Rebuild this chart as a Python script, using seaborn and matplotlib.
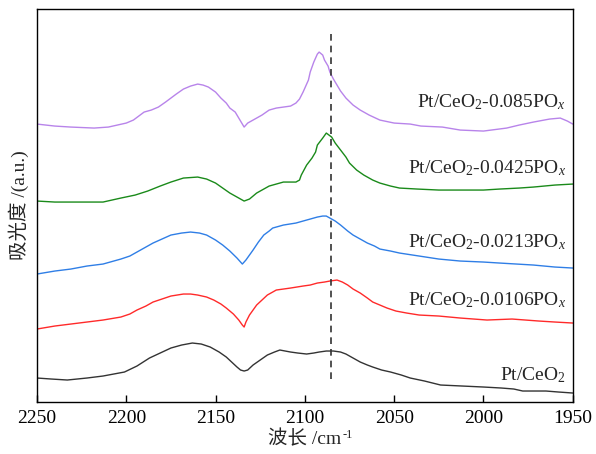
import matplotlib
matplotlib.use("Agg")
import matplotlib.pyplot as plt
import seaborn as sns
import pandas as pd

# spectra (wavenumber /cm-1, absorbance a.u., already stacked)
wn_ceo2 = [2250, 2242, 2233, 2222, 2213, 2207, 2201, 2194, 2187, 2181, 2175, 2169, 2163, 2158,
           2153, 2148, 2144, 2141, 2138, 2136, 2134, 2132, 2129, 2125, 2121, 2117, 2114, 2111,
           2108, 2104, 2099, 2095, 2092, 2088, 2084, 2080, 2077, 2073, 2069, 2065, 2062, 2057,
           2052, 2046, 2041, 2033, 2024, 2012, 2000, 1990, 1983, 1978, 1972, 1965, 1958, 1950]
ab_ceo2 = [24, 23, 22, 24, 26, 28, 30, 36, 44, 49, 54, 57, 59, 58,
           55, 50, 45, 40, 35, 32, 31, 32, 37, 42, 47, 50, 52, 51,
           50, 49, 48, 49, 50, 51, 51, 50, 48, 44, 40, 37, 35, 32,
           30, 27, 24, 21, 17, 16, 15, 14, 13, 11, 11, 11, 10, 9]

wn_0106 = [2250, 2240, 2231, 2222, 2213, 2203, 2198, 2194, 2189, 2185, 2180, 2175, 2168, 2164,
           2160, 2155, 2151, 2147, 2144, 2140, 2137, 2135, 2134, 2133, 2131, 2127, 2124, 2121,
           2116, 2112, 2108, 2101, 2097, 2093, 2089, 2086, 2082, 2079, 2076, 2073, 2069, 2065,
           2062, 2058, 2054, 2049, 2043, 2036, 2025, 2013, 1998, 1984, 1969, 1960, 1950]
ab_0106 = [73, 76, 78, 80, 82, 85, 88, 92, 96, 100, 103, 106, 108, 108,
           107, 105, 102, 98, 94, 88, 82, 77, 75, 80, 87, 97, 102, 107,
           112, 113, 114, 116, 117, 119, 120, 121, 122, 120, 117, 113, 109, 104,
           100, 97, 94, 91, 89, 87, 86, 84, 82, 83, 81, 80, 79]

wn_0213 = [2250, 2240, 2231, 2222, 2213, 2203, 2198, 2194, 2189, 2185, 2180, 2175, 2169, 2164,
           2159, 2155, 2150, 2146, 2142, 2138, 2136, 2135, 2133, 2129, 2126, 2123, 2120, 2118,
           2112, 2105, 2097, 2093, 2090, 2088, 2086, 2083, 2080, 2076, 2073, 2069, 2065, 2061,
           2058, 2052, 2047, 2036, 2025, 2013, 2000, 1991, 1972, 1960, 1950]
ab_0213 = [128, 131, 133, 136, 138, 143, 146, 150, 155, 159, 163, 167, 169, 170,
           169, 167, 162, 157, 151, 144, 140, 138, 142, 152, 160, 167, 171, 174,
           177, 179, 183, 185, 186, 186, 184, 181, 177, 171, 167, 163, 159, 156,
           153, 151, 149, 146, 143, 141, 140, 139, 137, 135, 134]

wn_0425 = [2250, 2240, 2231, 2213, 2203, 2195, 2188, 2181, 2175, 2168, 2160, 2155, 2150, 2146,
           2142, 2138, 2136, 2134, 2131, 2127, 2123, 2120, 2116, 2112, 2105, 2103, 2102, 2099,
           2096, 2094, 2093, 2090, 2088, 2085, 2083, 2080, 2077, 2075, 2071, 2067, 2062, 2058,
           2052, 2047, 2037, 2025, 2013, 2000, 1991, 1980, 1972, 1960, 1950]
ab_0425 = [201, 200, 200, 200, 204, 207, 211, 216, 220, 224, 225, 223, 219, 214,
           209, 205, 203, 201, 203, 209, 213, 216, 218, 220, 220, 222, 227, 237,
           244, 250, 257, 264, 269, 265, 259, 252, 245, 239, 232, 227, 222, 219,
           216, 214, 213, 212, 212, 212, 213, 214, 215, 217, 218]

wn_085 = [2250, 2240, 2231, 2218, 2210, 2205, 2200, 2196, 2193, 2190, 2186, 2182, 2178, 2175,
          2172, 2168, 2164, 2160, 2157, 2154, 2150, 2147, 2144, 2142, 2139, 2137, 2135, 2134,
          2132, 2129, 2124, 2120, 2116, 2112, 2108, 2105, 2103, 2101, 2098, 2097, 2095, 2093,
          2092, 2090, 2089, 2087, 2086, 2084, 2082, 2080, 2077, 2073, 2069, 2064, 2058, 2050,
          2041, 2035, 2023, 2013, 2000, 1987, 1980, 1972, 1963, 1957, 1953, 1950]
ab_085 = [278, 276, 275, 274, 275, 277, 279, 282, 286, 290, 292, 295, 300, 304,
          308, 313, 316, 318, 317, 315, 310, 304, 299, 294, 290, 284, 278, 275,
          279, 282, 287, 292, 294, 295, 296, 299, 303, 310, 322, 330, 340, 348,
          350, 347, 342, 336, 330, 323, 317, 311, 304, 297, 292, 287, 282, 279,
          278, 276, 275, 272, 271, 274, 277, 280, 283, 284, 281, 278]

labels = [r"Pt/CeO$_2$", r"Pt/CeO$_2$-0.0106PO$_x$", r"Pt/CeO$_2$-0.0213PO$_x$",
          r"Pt/CeO$_2$-0.0425PO$_x$", r"Pt/CeO$_2$-0.085PO$_x$"]
colors = ["#333333", "#ff2a2a", "#2f7ee6", "#1a8a1a", "#b884ea"]
label_y = [22, 97, 155, 229, 295]

sns.set_style("ticks")
plt.rcParams["font.family"] = ["Liberation Serif", "Noto Sans CJK SC", "DejaVu Serif"]
plt.rcParams["mathtext.fontset"] = "custom"
plt.rcParams["mathtext.rm"] = "Liberation Serif"
plt.rcParams["mathtext.it"] = "Liberation Serif:italic"
plt.rcParams["axes.unicode_minus"] = False

fig = plt.figure(figsize=(5.96, 4.54), dpi=100)
ax = fig.add_axes([0.062, 0.1145, 0.899, 0.8655])

series = [(wn_ceo2, ab_ceo2), (wn_0106, ab_0106), (wn_0213, ab_0213),
          (wn_0425, ab_0425), (wn_085, ab_085)]
for (wn, ab), lab, col, ly in zip(series, labels, colors, label_y):
    df = pd.DataFrame({"wn": wn, "ab": ab})
    sns.lineplot(data=df, x="wn", y="ab", color=col, linewidth=1.0, ax=ax,
                 sort=False, estimator=None)
    ax.text(1954, ly, lab, ha="right", va="baseline", fontsize=14)

# dashed reference line
ax.vlines(2085.5, 23, 369, colors="#333333", linestyles=(0, (4, 3)), linewidth=1.2)

ax.set_xlim(2250, 1950)
ax.set_ylim(0, 393)
ax.set_xticks([2250, 2200, 2150, 2100, 2050, 2000, 1950])
ax.set_yticks([])
ax.tick_params(axis="x", direction="in", length=5, width=1, labelsize=14, pad=6, colors="black")
for sp in ax.spines.values():
    sp.set_visible(True)
    sp.set_color("black")
    sp.set_linewidth(1.0)

ax.set_xlabel("波长 /cm", fontsize=14, labelpad=2)
ax.set_ylabel("吸光度 /(a.u.)", fontsize=14, labelpad=6)

# superscript -1 after the x label
fig.canvas.draw()
bb = ax.xaxis.label.get_window_extent()
fig.text((bb.x1 + 1) / fig.bbox.width, (bb.y1 + 1) / fig.bbox.height, "-1",
         fontsize=9, ha="left", va="top")

plt.savefig("out.png", dpi=100)
